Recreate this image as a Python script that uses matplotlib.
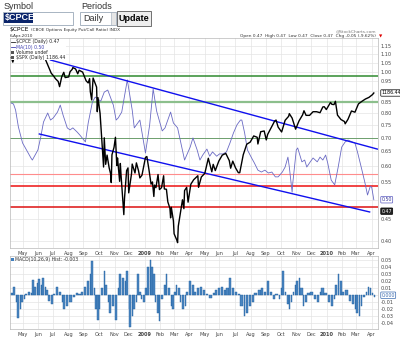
import numpy as np
import pandas as pd
import matplotlib
matplotlib.use("Agg")
import matplotlib.pyplot as plt
from matplotlib.patches import Rectangle
from matplotlib.ticker import FixedLocator, NullLocator, FixedFormatter

# ---- data ----
ma_dates = ["2008-04-09", "2008-04-13", "2008-04-17", "2008-04-23", "2008-05-01", "2008-05-07",
            "2008-05-17", "2008-05-21", "2008-05-31", "2008-06-06", "2008-06-12", "2008-06-20",
            "2008-06-26", "2008-07-02", "2008-07-10", "2008-07-16", "2008-07-22", "2008-07-30",
            "2008-08-05", "2008-08-11", "2008-08-19", "2008-08-25", "2008-09-04", "2008-09-10",
            "2008-09-18", "2008-09-24", "2008-10-04", "2008-10-12", "2008-10-20", "2008-10-30",
            "2008-11-05", "2008-11-09", "2008-11-17", "2008-11-27", "2008-12-07", "2008-12-11",
            "2008-12-19", "2008-12-23", "2009-01-02", "2009-01-12", "2009-01-18", "2009-01-26",
            "2009-02-05", "2009-02-11", "2009-02-21", "2009-02-27", "2009-03-09", "2009-03-23",
            "2009-04-02", "2009-04-08", "2009-04-16", "2009-04-22", "2009-04-28", "2009-05-06",
            "2009-05-12", "2009-05-18", "2009-05-26", "2009-06-01", "2009-06-07", "2009-06-15",
            "2009-06-21", "2009-06-27", "2009-07-05", "2009-07-11", "2009-07-15", "2009-07-21",
            "2009-07-27", "2009-08-04", "2009-08-10", "2009-08-16", "2009-08-24", "2009-08-30",
            "2009-09-05", "2009-09-13", "2009-09-19", "2009-09-25", "2009-10-03", "2009-10-09",
            "2009-10-15", "2009-10-19", "2009-10-23", "2009-10-25", "2009-11-02", "2009-11-04",
            "2009-11-12", "2009-11-18", "2009-11-22", "2009-11-28", "2009-12-04", "2009-12-12",
            "2009-12-18", "2009-12-24", "2009-12-30", "2010-01-03", "2010-01-11", "2010-01-17",
            "2010-01-23", "2010-01-31", "2010-02-06", "2010-02-12", "2010-02-20", "2010-02-26",
            "2010-03-04", "2010-03-12", "2010-03-18", "2010-03-24", "2010-03-30", "2010-04-01",
            "2010-04-06"]
ma_vals = [0.844, 0.840, 0.813, 0.742, 0.680, 0.662,
           0.627, 0.620, 0.655, 0.702, 0.762, 0.800,
           0.770, 0.779, 0.804, 0.835, 0.791, 0.738,
           0.730, 0.738, 0.722, 0.710, 0.684, 0.758,
           0.849, 0.872, 0.853, 0.896, 0.906, 0.835,
           0.770, 0.779, 0.804, 0.957, 0.813, 0.738,
           0.762, 0.770, 0.644, 0.750, 0.911, 0.808,
           0.726, 0.738, 0.804, 0.758, 0.738, 0.620,
           0.665, 0.699, 0.655, 0.620, 0.637, 0.658,
           0.633, 0.648, 0.633, 0.641, 0.641, 0.648,
           0.680, 0.718, 0.750, 0.770, 0.770, 0.718,
           0.655, 0.627, 0.610, 0.587, 0.581, 0.587,
           0.578, 0.581, 0.566, 0.566, 0.581, 0.597,
           0.630, 0.597, 0.521, 0.548, 0.655, 0.662,
           0.614, 0.620, 0.597, 0.614, 0.627, 0.614,
           0.630, 0.620, 0.637, 0.610, 0.556, 0.542,
           0.597, 0.665, 0.684, 0.691, 0.684, 0.680,
           0.644, 0.587, 0.551, 0.513, 0.538, 0.535,
           0.500]

spx_dates = ["2008-04-09", "2008-04-11", "2008-04-16", "2008-04-18", "2008-04-25", "2008-05-02",
             "2008-05-07", "2008-05-09", "2008-05-13", "2008-05-19", "2008-05-23", "2008-05-30",
             "2008-06-06", "2008-06-09", "2008-06-13", "2008-06-20", "2008-06-27", "2008-07-03",
             "2008-07-07", "2008-07-11", "2008-07-15", "2008-07-18", "2008-07-23", "2008-07-25",
             "2008-08-01", "2008-08-05", "2008-08-08", "2008-08-11", "2008-08-15", "2008-08-20",
             "2008-08-22", "2008-08-29", "2008-09-05", "2008-09-10", "2008-09-12", "2008-09-15",
             "2008-09-17", "2008-09-19", "2008-09-26", "2008-09-29", "2008-09-30", "2008-10-03",
             "2008-10-06", "2008-10-10", "2008-10-13", "2008-10-15", "2008-10-17", "2008-10-22",
             "2008-10-24", "2008-10-27", "2008-10-28", "2008-10-31", "2008-11-04", "2008-11-06",
             "2008-11-07", "2008-11-12", "2008-11-13", "2008-11-14", "2008-11-20", "2008-11-21",
             "2008-11-26", "2008-11-28", "2008-12-01", "2008-12-05", "2008-12-08", "2008-12-12",
             "2008-12-16", "2008-12-19", "2008-12-23", "2008-12-26", "2009-01-02", "2009-01-06",
             "2009-01-09", "2009-01-14", "2009-01-16", "2009-01-20", "2009-01-21", "2009-01-23",
             "2009-01-28", "2009-01-30", "2009-02-04", "2009-02-09", "2009-02-10", "2009-02-13",
             "2009-02-17", "2009-02-20", "2009-02-23", "2009-02-24", "2009-02-27", "2009-03-02",
             "2009-03-06", "2009-03-09", "2009-03-10", "2009-03-13", "2009-03-18", "2009-03-20",
             "2009-03-23", "2009-03-26", "2009-03-30", "2009-04-03", "2009-04-09", "2009-04-17",
             "2009-04-20", "2009-04-24", "2009-05-01", "2009-05-08", "2009-05-15", "2009-05-19",
             "2009-05-22", "2009-05-29", "2009-06-05", "2009-06-12", "2009-06-19", "2009-06-23",
             "2009-06-26", "2009-07-02", "2009-07-08", "2009-07-10", "2009-07-17", "2009-07-24",
             "2009-07-31", "2009-08-07", "2009-08-14", "2009-08-17", "2009-08-21", "2009-08-28",
             "2009-09-02", "2009-09-04", "2009-09-11", "2009-09-18", "2009-09-22", "2009-09-25",
             "2009-10-02", "2009-10-09", "2009-10-16", "2009-10-19", "2009-10-23", "2009-10-30",
             "2009-11-06", "2009-11-13", "2009-11-17", "2009-11-20", "2009-11-27", "2009-12-04",
             "2009-12-11", "2009-12-18", "2009-12-24", "2009-12-28", "2009-12-31", "2010-01-08",
             "2010-01-12", "2010-01-15", "2010-01-19", "2010-01-22", "2010-01-29", "2010-02-05",
             "2010-02-08", "2010-02-12", "2010-02-19", "2010-02-26", "2010-03-05", "2010-03-12",
             "2010-03-19", "2010-03-26", "2010-04-02", "2010-04-06"]
spx_vals = [1354, 1332, 1365, 1390, 1397, 1413,
            1392, 1388, 1404, 1426, 1375, 1400,
            1361, 1361, 1360, 1318, 1278, 1262,
            1252, 1239, 1215, 1260, 1282, 1257,
            1260, 1285, 1296, 1305, 1298, 1275,
            1292, 1283, 1242, 1232, 1252, 1193,
            1156, 1255, 1213, 1106, 1166, 1099,
            1056, 899, 1003, 908, 940, 896,
            877, 848, 941, 968, 1005, 904,
            930, 852, 911, 873, 752, 800,
            887, 896, 816, 876, 909, 879,
            913, 887, 863, 872, 932, 935,
            890, 843, 850, 805, 840, 832,
            874, 826, 832, 870, 828, 827,
            789, 770, 743, 773, 735, 700,
            683, 677, 720, 756, 795, 769,
            823, 833, 788, 843, 857, 870,
            833, 866, 878, 929, 883, 908,
            887, 919, 940, 946, 921, 895,
            919, 896, 880, 880, 941, 979,
            987, 1010, 1005, 980, 1026, 1029,
            995, 1016, 1042, 1068, 1072, 1044,
            1025, 1071, 1087, 1098, 1080, 1036,
            1069, 1093, 1110, 1091, 1091, 1106,
            1106, 1102, 1126, 1127, 1115, 1145,
            1137, 1136, 1150, 1092, 1074, 1066,
            1057, 1075, 1109, 1104, 1139, 1150,
            1160, 1167, 1179, 1186.44]

macd_dates = ["2008-04-09", "2008-04-13", "2008-04-17", "2008-04-21", "2008-04-25", "2008-04-29",
              "2008-05-03", "2008-05-07", "2008-05-13", "2008-05-17", "2008-05-21", "2008-05-25",
              "2008-05-29", "2008-06-02", "2008-06-06", "2008-06-10", "2008-06-14", "2008-06-18",
              "2008-06-22", "2008-06-26", "2008-07-02", "2008-07-08", "2008-07-12", "2008-07-18",
              "2008-07-22", "2008-07-28", "2008-08-03", "2008-08-09", "2008-08-15", "2008-08-21",
              "2008-08-27", "2008-09-02", "2008-09-08", "2008-09-12", "2008-09-16", "2008-09-20",
              "2008-09-24", "2008-09-28", "2008-10-02", "2008-10-06", "2008-10-10", "2008-10-14",
              "2008-10-18", "2008-10-22", "2008-10-28", "2008-11-03", "2008-11-07", "2008-11-11",
              "2008-11-17", "2008-11-21", "2008-11-25", "2008-11-29", "2008-12-01", "2008-12-05",
              "2008-12-09", "2008-12-13", "2008-12-17", "2008-12-21", "2008-12-25", "2008-12-29",
              "2009-01-02", "2009-01-06", "2009-01-10", "2009-01-14", "2009-01-18", "2009-01-22",
              "2009-01-26", "2009-01-30", "2009-02-03", "2009-02-09", "2009-02-13", "2009-02-17",
              "2009-02-21", "2009-02-25", "2009-03-01", "2009-03-05", "2009-03-09", "2009-03-13",
              "2009-03-17", "2009-03-21", "2009-03-25", "2009-03-31", "2009-04-04", "2009-04-10",
              "2009-04-16", "2009-04-22", "2009-04-28", "2009-05-04", "2009-05-10", "2009-05-16",
              "2009-05-22", "2009-05-28", "2009-06-03", "2009-06-09", "2009-06-15", "2009-06-19",
              "2009-06-25", "2009-07-01", "2009-07-07", "2009-07-13", "2009-07-19", "2009-07-23",
              "2009-07-29", "2009-08-04", "2009-08-10", "2009-08-16", "2009-08-22", "2009-08-28",
              "2009-09-03", "2009-09-09", "2009-09-15", "2009-09-21", "2009-09-27", "2009-10-01",
              "2009-10-05", "2009-10-09", "2009-10-13", "2009-10-17", "2009-10-21", "2009-10-25",
              "2009-10-29", "2009-11-02", "2009-11-06", "2009-11-10", "2009-11-14", "2009-11-18",
              "2009-11-24", "2009-11-30", "2009-12-06", "2009-12-12", "2009-12-18", "2009-12-22",
              "2009-12-28", "2010-01-03", "2010-01-09", "2010-01-15", "2010-01-19", "2010-01-23",
              "2010-01-27", "2010-02-02", "2010-02-08", "2010-02-14", "2010-02-20", "2010-02-26",
              "2010-03-02", "2010-03-06", "2010-03-10", "2010-03-14", "2010-03-20", "2010-03-24",
              "2010-03-28", "2010-04-01", "2010-04-06"]
macd_vals = [0.003, 0.011, -0.010, -0.033, -0.020, -0.010,
             -0.005, 0.002, 0.004, 0.003, 0.022, 0.012,
             0.018, 0.023, 0.015, 0.025, 0.012, 0.008,
             -0.008, -0.012, 0.002, 0.012, 0.005, -0.010,
             -0.020, -0.015, -0.010, -0.003, 0.003, 0.002,
             0.005, 0.012, 0.020, 0.030, 0.048, 0.010,
             -0.020, -0.035, -0.020, 0.010, 0.035, 0.015,
             -0.010, -0.025, -0.015, -0.035, 0.010, 0.030,
             0.025, 0.020, 0.035, -0.020, -0.045, -0.030,
             -0.020, -0.010, 0.030, 0.005, -0.005, -0.010,
             0.010, 0.040, 0.050, 0.040, 0.030, -0.010,
             -0.025, -0.037, -0.005, 0.015, 0.030, 0.010,
             -0.015, -0.020, 0.005, 0.015, 0.010, -0.010,
             -0.020, -0.015, 0.005, 0.020, 0.015, 0.005,
             0.010, 0.012, 0.008, 0.002, -0.004, 0.003,
             0.008, 0.010, 0.012, 0.008, 0.010, 0.024,
             0.010, 0.005, 0.002, -0.015, -0.030, -0.025,
             -0.015, -0.010, 0.003, 0.008, 0.010, 0.005,
             0.020, 0.005, -0.005, 0.002, -0.005, 0.010,
             0.035, 0.005, -0.012, -0.020, -0.010, 0.005,
             0.015, 0.020, 0.025, 0.010, -0.015, -0.010,
             0.003, 0.005, -0.005, -0.010, 0.005, 0.010,
             0.003, -0.010, -0.015, -0.005, 0.015, 0.030,
             0.020, 0.005, 0.008, -0.008, -0.012, -0.020,
             -0.025, -0.030, -0.015, -0.003, 0.005, 0.012,
             0.010, 0.003, -0.003]

# horizontal reference lines (value, colour, width)
hlines = [(0.975, "#2f8a2f", 1.1), (0.85, "#8cbf8c", 1.6), (0.70, "#6d9f6d", 0.7),
          (0.575, "#ff8c8c", 0.8), (0.54, "#ee1111", 1.1), (0.48, "#dd1111", 1.1)]
# trend lines: (start date, start value, end date, end value)
trends = [("2008-06-26", 1.066, "2010-04-13", 0.658),
          ("2008-06-04", 0.714, "2010-03-28", 0.468)]

months = ["May", "Jun", "Jul", "Aug", "Sep", "Oct", "Nov", "Dec", "2009", "Feb", "Mar", "Apr",
          "May", "Jun", "Jul", "Aug", "Sep", "Oct", "Nov", "Dec", "2010", "Feb", "Mar", "Apr"]
grid_ticks = [0.40, 0.45, 0.50, 0.55, 0.60, 0.65, 0.70, 0.75, 0.80, 0.85, 0.90, 0.95, 1.00, 1.05, 1.10, 1.15]
macd_ticks = [-0.04, -0.03, -0.02, -0.01, 0.0, 0.01, 0.02, 0.03, 0.04, 0.05]

# ---- helpers ----
days = pd.bdate_range("2008-04-07", "2010-05-31")


def pos(d):
    return days.searchsorted(pd.to_datetime(d))


W, H = 400, 337


def fxy(x, y):
    return x / W, 1 - y / H


def style_axes(a):
    a.set_xticks(month_pos)
    a.set_xticklabels(months)
    for lab, m in zip(a.get_xticklabels(), months):
        if m.startswith("20"):
            lab.set_fontweight("bold")
    a.tick_params(length=0, labelsize=3.6, colors="#444444", pad=2)
    a.grid(True, color="#e4e4e4", lw=0.5)
    a.set_axisbelow(True)
    for s in a.spines.values():
        s.set_color("#b8b8b8")
        s.set_linewidth(0.5)


plt.rcParams["font.family"] = ["DejaVu Sans"]
fig = plt.figure(figsize=(4, 3.37), dpi=100)
fig.patch.set_facecolor("white")

month_pos = pos(pd.date_range("2008-05-01", "2010-04-01", freq="BMS"))

# ---- main panel ----
ax = fig.add_axes([10 / W, 1 - 248 / H, 368 / W, 210 / H])
ax.set_yscale("log")
ax.set_ylim(0.385, 1.201)
ax.set_xlim(0, 527)

for v, c, w in hlines:
    ax.axhline(v, color=c, lw=w, zorder=2)
ax.plot(pos(ma_dates), ma_vals, color="#6a6ac4", lw=0.6, zorder=3)
for d0, v0, d1, v1 in trends:
    ax.plot([pos(d0), pos(d1)], [v0, v1], color="#1010ee", lw=1.0, zorder=4)

ax2 = ax.twinx()
ax2.set_yscale("log")
ax2.set_ylim(663.6, 1458)
ax2.set_xlim(0, 527)
ax2.axis("off")
ax2.plot(pos(spx_dates), spx_vals, color="black", lw=1.0, zorder=5)

ax.yaxis.set_minor_locator(NullLocator())
ax.yaxis.set_major_locator(FixedLocator(grid_ticks))
ax.yaxis.set_major_formatter(FixedFormatter(["" if t in (0.50, 0.90) else "%.2f" % t for t in grid_ticks]))
ax.yaxis.tick_right()
style_axes(ax)

# value boxes on the right
box = dict(xycoords=("axes fraction", "data"), xytext=(2.5, 0), textcoords="offset points",
           fontsize=3.4, va="center", annotation_clip=False)
ax2.annotate("1186.44", xy=(1.0, spx_vals[-1]), color="black",
             bbox=dict(boxstyle="round,pad=0.15", fc="white", ec="black", lw=0.5), **box)
ax.annotate("0.50", xy=(1.0, ma_vals[-1]), color="#3a3a9a",
            bbox=dict(boxstyle="round,pad=0.15", fc="white", ec="#5a5ac0", lw=0.5), **box)
ax.annotate("0.47", xy=(1.0, 0.47), color="white",
            bbox=dict(boxstyle="round,pad=0.15", fc="#222222", ec="black", lw=0.5), **box)

# legend inside the panel
leg = [("$CPCE (Daily) 0.47", "#222222", "line"), ("MA(10) 0.50", "#4040b0", "line"),
       ("Volume undef", "#222222", "bar"), ("$SPX (Daily) 1186.44", "#222222", "bar")]
fig.patches.append(Rectangle(fxy(10.5, 59.5), 55 / W, 20 / H, transform=fig.transFigure,
                             fc="white", ec="none", zorder=6))
for i, (txt, c, kind) in enumerate(leg):
    yy = 42 + 5 * i
    if kind == "line":
        fig.lines.append(plt.Line2D([fxy(11, 0)[0], fxy(15, 0)[0]], [fxy(0, yy)[1]] * 2,
                                    transform=fig.transFigure, color=c, lw=0.6, zorder=7))
    else:
        fig.patches.append(Rectangle(fxy(11, yy + 1.5), 3 / W, 3 / H, transform=fig.transFigure,
                                     fc="#555555", ec="none", zorder=7))
    fig.text(*fxy(16, yy), txt, fontsize=3.3, color=c, va="center", zorder=7)

# ---- MACD panel ----
bx = fig.add_axes([10 / W, 1 - 329 / H, 368 / W, 73 / H])
bx.set_xlim(0, 527)
bx.set_ylim(-0.048, 0.0557)
mp = pos(macd_dates)
widths = np.diff(np.append(mp, mp[-1] + 2)) * 0.75
bx.bar(mp, macd_vals, width=widths, align="edge", color="#4a86c0", edgecolor="#1f5f9f", lw=0.3, zorder=3)
bx.yaxis.tick_right()
bx.set_yticks(macd_ticks)
bx.set_yticklabels(["" if t == 0 else "%.2f" % t for t in macd_ticks])
style_axes(bx)
bx.annotate("0.000", xy=(1.0, 0.0), color="#3a6ab0",
            bbox=dict(boxstyle="round,pad=0.15", fc="white", ec="#3a6ab0", lw=0.5), **box)
fig.patches.append(Rectangle(fxy(11, 261), 3 / W, 3 / H, transform=fig.transFigure, fc="#3f7fbf", ec="none"))
fig.text(*fxy(15, 259.5), "MACD(10,26,9) Hist: -0.003", fontsize=3.3, color="#333333", va="center")

# ---- header / form ----
fig.text(*fxy(4, 6.5), "Symbol", fontsize=6.5, color="#333333", va="center", family="Liberation Sans")
fig.text(*fxy(81, 6.5), "Periods", fontsize=6.5, color="#333333", va="center", family="Liberation Sans")
fig.patches.append(Rectangle(fxy(3, 25), 70 / W, 13 / H, transform=fig.transFigure,
                             fc="white", ec="#9aa8b8", lw=0.6))
fig.patches.append(Rectangle(fxy(4, 22.5), 29 / W, 9.5 / H, transform=fig.transFigure, fc="#0a246a", ec="none"))
fig.text(*fxy(5, 17.8), "$CPCE", fontsize=6.5, color="white", va="center", family="Liberation Sans",
         fontweight="bold")
fig.patches.append(Rectangle(fxy(80, 25), 36 / W, 13 / H, transform=fig.transFigure,
                             fc="white", ec="#9aa8b8", lw=0.6))
fig.patches.append(Rectangle(fxy(111, 25), 5 / W, 13 / H, transform=fig.transFigure,
                             fc="#e6e6e6", ec="#9aa8b8", lw=0.4))
fig.text(*fxy(83, 18.5), "Daily", fontsize=6.5, color="#333333", va="center", family="Liberation Sans")
fig.patches.append(Rectangle(fxy(117, 26), 34 / W, 15 / H, transform=fig.transFigure,
                             fc="#eeeeee", ec="#6f6f6f", lw=0.7))
fig.text(*fxy(134, 18.5), "Update", fontsize=6.5, color="black", va="center", ha="center",
         family="Liberation Sans", fontweight="bold")

# ---- chart title lines ----
fig.text(*fxy(10, 30), "$CPCE", fontsize=4.3, color="black", va="center")
fig.text(*fxy(31, 30), "(CBOE Options Equity Put/Call Ratio) INDX", fontsize=3.1, color="#333333", va="center")
fig.text(*fxy(10, 35.5), "6-Apr-2010", fontsize=3.1, color="#333333", va="center")
fig.text(*fxy(376, 31.5), "@StockCharts.com", fontsize=3.1, color="#777777", va="center", ha="right")
fig.text(*fxy(376, 36), "Open 0.47  High 0.47  Low 0.47  Close 0.47  Chg -0.05 (-9.62%)",
         fontsize=3.1, color="#333333", va="center", ha="right")
fig.text(*fxy(379, 36), "\u25bc", fontsize=3.1, color="#dd0000", va="center")

fig.savefig("out.png", dpi=100)
